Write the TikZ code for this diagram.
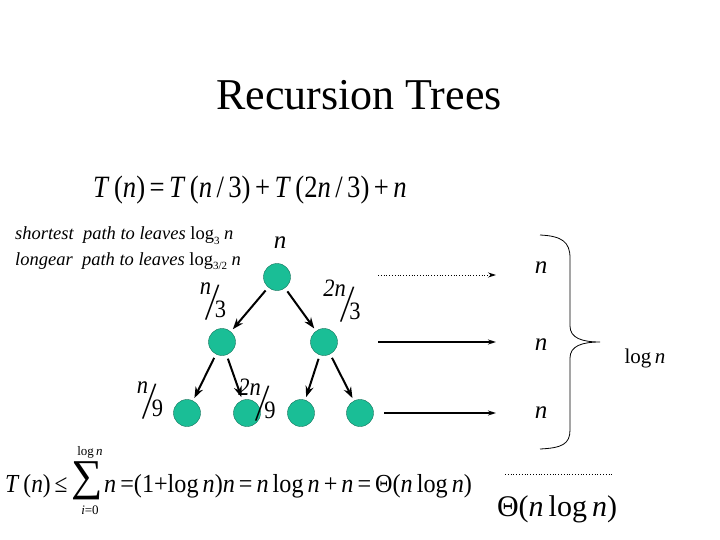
\documentclass[tikz,border=0pt]{standalone}
\usepackage{fontspec}
\setmainfont{Liberation Serif}
\usetikzlibrary{arrows.meta}
\definecolor{nodegreen}{RGB}{26,190,150}
\newcommand{\vv}[1]{\textit{#1}}
\newcommand{\sfrac}[2]{\scalebox{0.9}[1]{\raisebox{0.9em}{\vv{#1}}\kern-0.24em\raisebox{-0.12em}{\rotatebox[origin=c]{-9}{\scalebox{1.5}[2.2]{/}}}\kern-0.24em{#2}}}
\begin{document}
\begin{tikzpicture}[x=1pt,y=-1pt,
  tnode/.style={circle,fill=nodegreen,draw=nodegreen!60!black,line width=0.4pt,minimum size=27pt,inner sep=0pt},
  tarrow/.style={-{Stealth[length=11pt,width=8pt]},line width=2pt},
  harrow/.style={-{Stealth[length=8pt,width=5pt]},line width=1.6pt},
  dotarrow/.style={-{Stealth[length=8pt,width=5pt]},line width=0.8pt,dotted},
  lbl/.style={inner sep=0pt,font=\fontsize{25}{25}\selectfont},
  eq/.style={inner sep=0pt,anchor=base west}]
\useasboundingbox (0,0) rectangle (720,540);
\fill[white] (0,0) rectangle (720,540);
% title
\node[inner sep=0pt] (title) at (359,95) {\fontsize{44}{44}\selectfont Recursion Trees};
% recurrence
\node[eq] (rec) at (93,197) {\fontsize{31}{31}\selectfont\scalebox{0.86}[1]{\vv{T}\,(\vv{n})\,=\,\vv{T}\,(\vv{n}\,/\,3)\,+\,\vv{T}\,(2\vv{n}\,/\,3)\,+\,\vv{n}}};
% path lengths
\node[eq] (short) at (15,240) {\fontsize{18.5}{18.5}\selectfont \vv{shortest\ \ path to leaves} log\raisebox{-0.25em}{\fontsize{11}{11}\selectfont 3} \vv{n}};
\node[eq] (long) at (15,265) {\fontsize{18.5}{18.5}\selectfont \vv{longear\ \ path to leaves} log\raisebox{-0.25em}{\fontsize{11}{11}\selectfont 3/2} \vv{n}};
% tree
\node[lbl] (rootlbl) at (280,243) {\vv{n}};
\node[tnode] (r) at (277,277) {};
\node[tnode] (a) at (222,342) {};
\node[tnode] (b) at (324,342) {};
\node[tnode] (c) at (187,413) {};
\node[tnode] (d) at (247,413) {};
\node[tnode] (e) at (301,413) {};
\node[tnode] (f) at (360,413) {};
\draw[tarrow,shorten <=4pt,shorten >=3pt] (r) -- (a);
\draw[tarrow,shorten <=4pt,shorten >=3pt] (r) -- (b);
\draw[tarrow,shorten <=4pt,shorten >=3pt] (a) -- (c);
\draw[tarrow,shorten <=4pt,shorten >=3pt] (a) -- (d);
\draw[tarrow,shorten <=4pt,shorten >=3pt] (b) -- (e);
\draw[tarrow,shorten <=4pt,shorten >=3pt] (b) -- (f);
\node[lbl] (la) at (213,302) {\sfrac{n}{3}};
\node[lbl] (lb) at (342,302) {\sfrac{2n}{3}};
\node[lbl] (lc) at (150,401) {\sfrac{n}{9}};
\node[lbl] (ld) at (257,401) {\sfrac{2n}{9}};
% right column
\node[lbl] (n1) at (541,268) {\vv{n}};
\node[lbl] (n2) at (541,345) {\vv{n}};
\node[lbl] (n3) at (541,413) {\vv{n}};
\coordinate (s1) at (378,275);
\coordinate (e1) at (496,275);
\coordinate (s2) at (378,342);
\coordinate (e2) at (496,342);
\coordinate (s3) at (384,413);
\coordinate (e3) at (496,413);
\draw[dotarrow] (s1) -- (e1);
\draw[harrow] (s2) -- (e2);
\draw[harrow] (s3) -- (e3);
% brace
\draw[line width=0.8pt] (540,235) .. controls (562,236) and (570,242) .. (570,258)
  -- (570,326) .. controls (570,338) and (582,342) .. (600,342)
  .. controls (582,342) and (570,346) .. (570,358)
  -- (570,430) .. controls (570,444) and (562,448) .. (540,449);
\node[inner sep=0pt] (logn) at (645,358) {\fontsize{21}{21}\selectfont log\,\vv{n}};
% dotted sum line
\coordinate (d1) at (505,474);
\coordinate (d2) at (613,474);
\draw[line width=0.8pt,dotted] (d1) -- (d2);
\node[inner sep=0pt] (total) at (557,509) {\fontsize{30}{30}\selectfont Θ(\vv{n}\,log\,\vv{n})};
% bottom equation
\node[eq] (bot1) at (5,492) {\fontsize{26}{26}\selectfont\scalebox{0.9}[1]{\vv{T}\,(\vv{n})\,≤}};
\node[inner sep=0pt] (sum) at (87,481) {\fontsize{44}{44}\selectfont ∑};
\node[inner sep=0pt] (sumtop) at (90,452) {\fontsize{13}{13}\selectfont log\,\vv{n}};
\node[inner sep=0pt] (sumbot) at (90,510) {\fontsize{13}{13}\selectfont \vv{i}=0};
\node[eq] (bot2) at (104,492) {\fontsize{26}{26}\selectfont\scalebox{0.93}[1]{\vv{n}\,=(1+log\,\vv{n})\vv{n}\,=\,\vv{n}\,log\,\vv{n}\,+\,\vv{n}\,=\,Θ(\vv{n}\,log\,\vv{n})}};
\end{tikzpicture}
\end{document}
